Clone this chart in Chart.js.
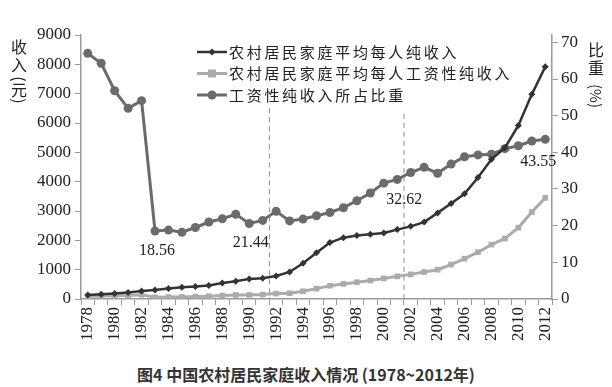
<!DOCTYPE html>
<html>
<head>
<meta charset="utf-8">
<script src="https://cdn.jsdelivr.net/npm/chart.js@4/dist/chart.umd.min.js"></script>
<style>
  html, body { margin: 0; padding: 0; background: #fff; }
  #wrap { width: 612px; height: 387px; position: relative; }
  #c { display: block; }
  #caption {
    position: absolute; left: 0; top: 362px; width: 612px; text-align: center;
    font: bold 16px "Noto Sans CJK SC", "Noto Sans", sans-serif; color: #333;
  }
</style>
</head>
<body>
<div id="wrap">
  <canvas id="c" width="612" height="355"></canvas>
  <div id="caption">图4 中国农村居民家庭收入情况 (1978~2012年)</div>
</div>
<script>
// 数据
const years = ['1978','1979','1980','1981','1982','1983','1984','1985','1986','1987',
  '1988','1989','1990','1991','1992','1993','1994','1995','1996','1997',
  '1998','1999','2000','2001','2002','2003','2004','2005','2006','2007',
  '2008','2009','2010','2011','2012'];

// 农村居民家庭平均每人纯收入（元）
const netIncome = [134, 160, 191, 223, 270, 310, 355, 398, 424, 463,
  545, 602, 686, 709, 784, 922, 1221, 1578, 1926, 2090,
  2162, 2210, 2253, 2366, 2476, 2622, 2936, 3255, 3587, 4140,
  4761, 5153, 5919, 6977, 7917];

// 农村居民家庭平均每人工资性纯收入（元）
const wageIncome = [89, 103, 108, 116, 146, 58, 67, 72, 82, 96,
  118, 137, 139, 152, 184, 195, 263, 354, 451, 515,
  574, 630, 702, 772, 840, 918, 999, 1175, 1375, 1596,
  1854, 2061, 2431, 2963, 3448];

// 工资性纯收入所占比重（%）
const wageShare = [67.0, 64.3, 56.8, 52.0, 54.1, 18.56, 18.8, 18.2, 19.5, 21.0,
  21.9, 23.1, 20.6, 21.44, 23.9, 21.3, 21.8, 22.7, 23.6, 24.9,
  26.8, 28.9, 31.6, 32.62, 34.5, 35.9, 34.3, 36.8, 38.8, 39.3,
  39.5, 41.0, 41.8, 43.1, 43.55];

const leftTicks = [0, 1000, 2000, 3000, 4000, 5000, 6000, 7000, 8000, 9000];
const rightTicks = [0, 10, 20, 30, 40, 50, 60, 70];

// 标注的数值点（年份索引）
const labelled = [5, 13, 23, 34];
// 虚线位置（两个年份之间）
const dashedBetween = [[13, 14], [23, 24]];

const serif = '"Liberation Serif", "DejaVu Serif", serif';
const cjk = '"Noto Sans CJK SC", "Noto Sans", sans-serif';
const axisColor = '#9a9a9a';
const textColor = '#222';

Chart.defaults.font.family = serif;

// 画虚线、数值标注、图例和坐标轴标题
const extras = {
  id: 'extras',
  beforeDatasetsDraw(chart) {
    const ctx = chart.ctx;
    const x = chart.scales.x, y1 = chart.scales.y1;
    const tops = [52, 50.5];
    ctx.save();
    ctx.strokeStyle = '#8a8a8a';
    ctx.lineWidth = 1;
    ctx.setLineDash([5, 4]);
    dashedBetween.forEach((p, i) => {
      const px = (x.getPixelForValue(p[0]) + x.getPixelForValue(p[1])) / 2;
      ctx.beginPath();
      ctx.moveTo(px, y1.getPixelForValue(tops[i]));
      ctx.lineTo(px, chart.chartArea.bottom);
      ctx.stroke();
    });
    ctx.restore();
  },
  afterDraw(chart) {
    const ctx = chart.ctx;
    ctx.save();

    // 数值标注
    const meta = chart.getDatasetMeta(2);
    const offs = [[2, 20], [-12, 22], [7, 20], [-7, 22]];
    ctx.font = '16px ' + serif;
    ctx.fillStyle = textColor;
    ctx.textAlign = 'center';
    ctx.textBaseline = 'middle';
    labelled.forEach((idx, i) => {
      const pt = meta.data[idx];
      ctx.fillText(wageShare[idx].toFixed(2), pt.x + offs[i][0], pt.y + offs[i][1]);
    });

    // 图例
    const lx = 197, ly = 52, step = 21.5;
    chart.data.datasets.forEach((ds, i) => {
      const yy = ly + i * step;
      ctx.strokeStyle = ds.borderColor;
      ctx.lineWidth = ds.borderWidth;
      ctx.beginPath();
      ctx.moveTo(lx, yy);
      ctx.lineTo(lx + 30, yy);
      ctx.stroke();
      ctx.fillStyle = ds.pointBackgroundColor;
      const r = ds.pointRadius;
      if (ds.pointStyle === 'rect') {
        ctx.fillRect(lx + 15 - r, yy - r, 2 * r, 2 * r);
      } else if (ds.pointStyle === 'rectRot') {
        ctx.beginPath();
        ctx.moveTo(lx + 15, yy - r); ctx.lineTo(lx + 15 + r, yy);
        ctx.lineTo(lx + 15, yy + r); ctx.lineTo(lx + 15 - r, yy);
        ctx.closePath(); ctx.fill();
      } else {
        ctx.beginPath(); ctx.arc(lx + 15, yy, r, 0, Math.PI * 2); ctx.fill();
      }
      ctx.fillStyle = textColor;
      ctx.font = '15px ' + cjk;
      ctx.letterSpacing = '2.7px';
      ctx.textAlign = 'left';
      ctx.fillText(ds.label, lx + 32, yy);
      ctx.letterSpacing = '0px';
    });

    // 左侧标题：收入（元）竖排，括号旋转
    ctx.font = '16px ' + cjk;
    ctx.fillStyle = textColor;
    ctx.textAlign = 'center';
    ctx.fillText('收', 19, 47);
    ctx.fillText('入', 19, 65);
    ctx.fillText('元', 19, 90);
    [['(', 79], [')', 101]].forEach(c => {
      ctx.save();
      ctx.translate(19, c[1]);
      ctx.rotate(Math.PI / 2);
      ctx.fillText(c[0], 0, 0);
      ctx.restore();
    });

    // 右侧标题：比重（%）
    ctx.fillText('比', 596, 50);
    ctx.fillText('重', 596, 68);
    ctx.translate(596, 96);
    ctx.rotate(Math.PI / 2);
    ctx.font = '15px ' + cjk;
    ctx.fillText('(%)', 0, 0);
    ctx.restore();
  }
};

new Chart(document.getElementById('c'), {
  type: 'line',
  data: {
    labels: years,
    datasets: [
      {
        label: '农村居民家庭平均每人纯收入',
        data: netIncome,
        yAxisID: 'y',
        borderColor: '#333',
        borderWidth: 2.5,
        pointStyle: 'rectRot',
        pointRadius: 3.5,
        pointBackgroundColor: '#333',
        pointBorderWidth: 0,
        tension: 0
      },
      {
        label: '农村居民家庭平均每人工资性纯收入',
        data: wageIncome,
        yAxisID: 'y',
        borderColor: '#ababab',
        borderWidth: 3,
        pointStyle: 'rect',
        pointRadius: 4,
        pointBackgroundColor: '#ababab',
        pointBorderWidth: 0,
        tension: 0
      },
      {
        label: '工资性纯收入所占比重',
        data: wageShare,
        yAxisID: 'y1',
        borderColor: '#6b6b6b',
        borderWidth: 3,
        pointStyle: 'circle',
        pointRadius: 4.5,
        pointBackgroundColor: '#6b6b6b',
        pointBorderWidth: 0,
        tension: 0
      }
    ]
  },
  options: {
    responsive: false,
    animation: false,
    layout: { padding: { top: 35, left: 0, right: 0, bottom: 0 } },
    plugins: { legend: { display: false }, tooltip: { enabled: false } },
    scales: {
      x: {
        offset: true,
        grid: { display: true, drawOnChartArea: false, offset: true, tickLength: 6, color: axisColor },
        border: { color: axisColor, width: 1.5 },
        ticks: {
          autoSkip: false, maxRotation: 90, minRotation: 90,
          color: textColor, font: { family: serif, size: 17 }, padding: 2,
          callback: (v, i) => (i % 2 === 0 ? years[i] : '')
        },
        afterFit: s => { s.height = 56; }
      },
      y: {
        position: 'left', min: 0, max: 9000,
        afterBuildTicks: s => { s.ticks = leftTicks.map(v => ({ value: v })); },
        grid: { display: true, drawOnChartArea: false, tickLength: 6, color: axisColor },
        border: { color: axisColor, width: 1.5 },
        ticks: { color: textColor, font: { family: serif, size: 17 }, padding: 4, callback: v => String(v) },
        afterFit: s => { s.width = 81; }
      },
      y1: {
        position: 'right', min: 0, max: 72,
        afterBuildTicks: s => { s.ticks = rightTicks.map(v => ({ value: v })); },
        grid: { display: true, drawOnChartArea: false, tickLength: 6, color: axisColor },
        border: { color: axisColor, width: 1.5 },
        ticks: { color: textColor, font: { family: serif, size: 17 }, padding: 3, callback: v => String(v) },
        afterFit: s => { s.width = 60; }
      }
    }
  },
  plugins: [extras]
});
</script>
</body>
</html>
